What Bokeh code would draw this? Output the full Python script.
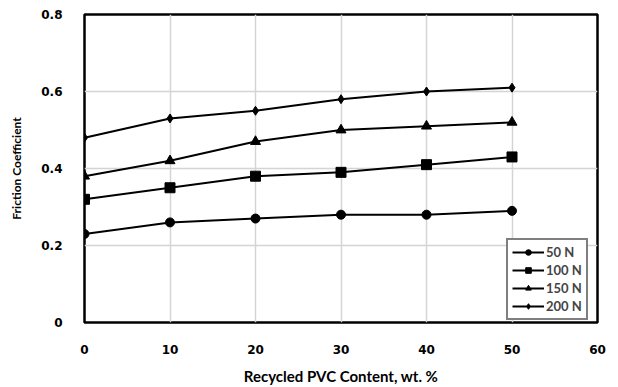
from bokeh.plotting import figure
from bokeh.models import Legend, LegendItem, FixedTicker, Range1d
from bokeh.embed import file_html
from bokeh.resources import INLINE

# Data
pvc_content = [0, 10, 20, 30, 40, 50]
f_50N = [0.23, 0.26, 0.27, 0.28, 0.28, 0.29]
f_100N = [0.32, 0.35, 0.38, 0.39, 0.41, 0.43]
f_150N = [0.38, 0.42, 0.47, 0.50, 0.51, 0.52]
f_200N = [0.48, 0.53, 0.55, 0.58, 0.60, 0.61]
series_names = ["50 N", "100 N", "150 N", "200 N"]
x_ticks = [0, 10, 20, 30, 40, 50, 60]
y_ticks = [0, 0.2, 0.4, 0.6, 0.8]

p = figure(width=618, height=387, output_backend="svg", toolbar_location=None,
           x_range=Range1d(0, 60), y_range=Range1d(0, 0.8),
           min_border_left=84, min_border_right=21, min_border_top=14,
           min_border_bottom=57)

p.outline_line_color = "black"
p.outline_line_width = 2.5
p.background_fill_color = "white"
p.border_fill_color = "white"

p.xaxis.ticker = FixedTicker(ticks=x_ticks)
p.yaxis.ticker = FixedTicker(ticks=y_ticks)
p.yaxis.major_label_overrides = {0: "0", 0.2: "0.2", 0.4: "0.4", 0.6: "0.6", 0.8: "0.8"}

for ax in (p.xaxis[0], p.yaxis[0]):
    ax.axis_line_color = None
    ax.major_tick_line_color = None
    ax.minor_tick_line_color = None
    ax.major_label_text_font = "DejaVu Sans"
    ax.major_label_text_font_style = "bold"
    ax.major_label_text_font_size = "12px"
    ax.major_label_text_color = "black"
    ax.major_label_standoff = 16
    ax.axis_label_text_font = "Lato"
    ax.axis_label_text_font_style = "bold"
    ax.axis_label_text_color = "black"

p.xaxis.axis_label = "Recycled PVC Content, wt. %"
p.xaxis.axis_label_text_font_size = "15px"
p.xaxis.axis_label_standoff = 10
p.yaxis.axis_label = "Friction Coefficient"
p.yaxis.axis_label_text_font_size = "12px"
p.yaxis.axis_label_standoff = 14

p.xgrid.ticker = FixedTicker(ticks=x_ticks)
p.ygrid.ticker = FixedTicker(ticks=y_ticks)
p.grid.grid_line_color = "#d4d4d4"
p.grid.grid_line_width = 1.5

series = [f_50N, f_100N, f_150N, f_200N]
markers = ["circle", "square", "triangle", "diamond"]
sizes = [9, 10, 10, 9]
items = []
for name, ys, mk, sz in zip(series_names, series, markers, sizes):
    ln = p.line(pvc_content, ys, line_color="black", line_width=2)
    sc = p.scatter(pvc_content, ys, marker=mk, size=sz, fill_color="black",
                   line_color="black")
    items.append(LegendItem(label=name, renderers=[ln, sc]))

legend = Legend(items=items, location=(422, 2))
legend.border_line_color = "black"
legend.border_line_width = 2
legend.background_fill_alpha = 1
legend.label_text_font = "Lato"
legend.label_text_font_style = "bold"
legend.label_text_font_size = "13px"
legend.glyph_width = 32
legend.glyph_height = 14
legend.label_height = 14
legend.label_standoff = 2
legend.spacing = 2
legend.padding = 4
legend.margin = 0
p.add_layout(legend, "center")

open("out.html", "w").write(file_html(p, INLINE))
